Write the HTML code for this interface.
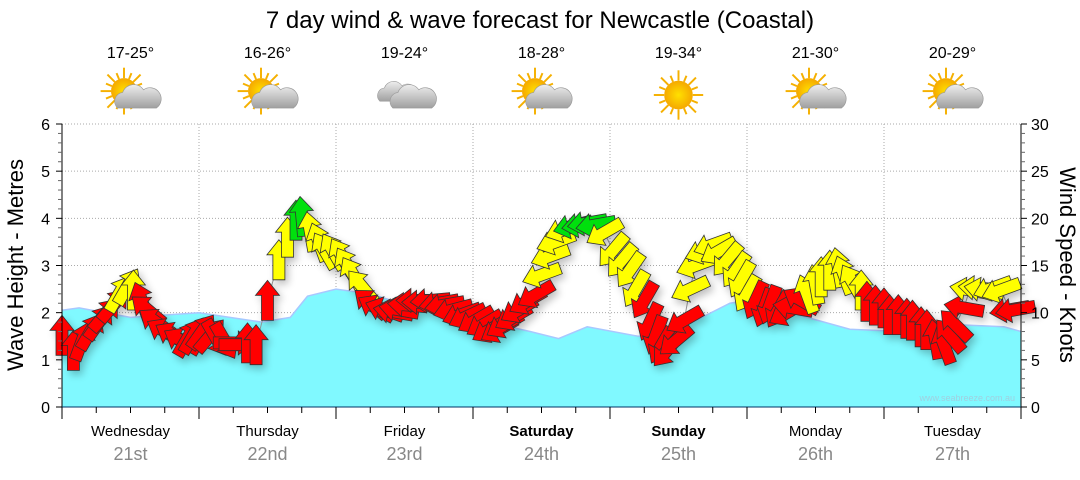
<!DOCTYPE html>
<html><head><meta charset="utf-8"><style>
body{margin:0;background:#fff;width:1080px;height:475px;overflow:hidden;font-family:"Liberation Sans",sans-serif}
</style></head><body>
<svg id="chart" width="1080" height="475" xmlns="http://www.w3.org/2000/svg" font-family="Liberation Sans, sans-serif">
<defs>
<radialGradient id="sun" cx="50%" cy="50%" r="50%"><stop offset="0" stop-color="#ffe000"/><stop offset="1" stop-color="#f5a800"/></radialGradient>
<linearGradient id="cloud" x1="0" y1="0" x2="0" y2="1"><stop offset="0" stop-color="#eeeeee"/><stop offset="1" stop-color="#a0a0a0"/></linearGradient>
<filter id="sh" x="-50%" y="-50%" width="200%" height="200%"><feGaussianBlur in="SourceAlpha" stdDeviation="4"/><feOffset dx="3" dy="4"/><feComponentTransfer><feFuncA type="linear" slope="0.25"/></feComponentTransfer><feMerge><feMergeNode/><feMergeNode in="SourceGraphic"/></feMerge></filter>
</defs>
<text x="540" y="28" font-size="24" text-anchor="middle" fill="#000">7 day wind &amp; wave forecast for Newcastle (Coastal)</text>
<g id="grid"></g>
<g id="wave"></g>
<g id="windline"></g>
<g id="arrows" filter="url(#sh)"></g>
<g id="axes"></g>
<g id="days"></g>
<g id="weather"></g>
<text transform="translate(23,265) rotate(-90)" font-size="22" text-anchor="middle">Wave Height - Metres</text>
<text transform="translate(1060,265) rotate(90)" font-size="22" text-anchor="middle">Wind Speed - Knots</text>
<text x="1015" y="401" font-size="9" text-anchor="end" fill="#9fd0e0">www.seabreeze.com.au</text>
</svg>
<script>
const dayNames=["Wednesday","Thursday","Friday","Saturday","Sunday","Monday","Tuesday"];
const dayDates=["21st","22nd","23rd","24th","25th","26th","27th"];
const dayBold=[false,false,false,true,true,false,false];
const temps=["17-25°","16-26°","19-24°","18-28°","19-34°","21-30°","20-29°"];
const icons=["partly","partly","cloudy","partly","sunny","partly","partly"];
const waveHours=[0,3,12,24,35,40,43,48,54,62,71,82,87,92,101,108,117,122,129,138,147,156,165,168];
const waveHeights=[2.05,2.1,1.9,2.0,1.8,1.9,2.35,2.5,2.4,2.1,1.9,1.6,1.45,1.7,1.5,1.65,2.2,2.3,1.95,1.65,1.6,1.75,1.7,1.6];
const windHours=[0,2,3.5,5,6.5,7.5,9,10,11.5,12.5,14,15,16.5,18,19.5,21,22,23,24.5,26,27,28.5,30,31,32.5,34,36,38,39.5,41,42,43.5,45,46,47.5,49,50,51,52.5,54,55,56.5,58,59,60.5,62,63,64.5,66,67,68.5,70,71,72.5,74,75,76.5,77.5,79,80,81.5,83,84,85.5,86.5,88,89.5,91,92,93.5,95,96.5,98,99.5,100.5,102,103,104,105,106,107.5,109,110,111,112.5,114,115,116.5,118,119,120,121.5,123,124,125.5,127,128,129.5,130.5,132,133,134.5,136,137,138.5,140,141,142.5,144,145,146.5,148,149,150.5,151.5,153,154.5,155.5,156.5,158,159,160.5,161.5,163,164.5,166,167];
const windSpeeds=[7.6,6,7,8,9,9.8,10.8,12,12.8,12.4,11.2,10.3,9,8,7.6,7,7.3,7.6,8,7.6,7.3,7,6.8,6.6,6.8,6.6,11.3,15.6,18,19.8,20.2,18.6,17.5,16.6,16.5,16,15,14,12.8,11,10.5,10.3,10.1,10.3,10.8,11.3,11.1,11.3,11,10.8,10.3,9.8,9.6,9.2,8.8,8.2,8.2,8.7,9.5,10.3,11.2,11.9,14,16,17.5,18.8,19.2,19.3,19.5,19.3,18.5,16.6,15.5,14.5,12.5,11.3,9,7.6,6.5,6,7,9.2,12.5,15,16.5,17.2,16.5,15.6,14.5,13.5,12,11.3,10.5,10.8,10.3,10,10.5,11.3,12,13,13.8,14.5,14.8,14,13.2,12.4,11.2,10.8,10.5,9.8,9.8,9.4,9.2,8.5,8.2,7.2,6.6,7.6,8.7,10.5,12.4,12.6,12.4,12.6,12.4,10.3,10.3];
const windDirs=[0,0,20,30,35,40,40,30,30,0,-20,-50,-55,-60,-60,-60,30,30,35,40,150,150,90,90,0,0,0,0,0,0,-5,-10,-20,-30,-30,-30,-30,-30,-40,-50,-60,-70,-80,-80,-85,-90,-90,-95,-100,-100,-105,-110,-115,-120,-120,-120,-120,-120,-120,-120,-120,-120,-110,-110,-110,-110,-105,-100,-100,-100,-120,-140,-140,-145,-150,-150,-155,-160,-150,-140,-130,-120,-115,-110,-110,-110,-120,-140,-145,-150,-150,-155,-160,-160,-150,-120,-80,-60,-20,-10,0,0,-10,-20,-30,0,0,0,0,0,0,0,0,0,0,-10,-20,-40,-45,-80,-80,-85,-80,-110,-110,-100,-100];
const waveTicks=[0,1,2,3,4,5,6];
const windTicks=[0,5,10,15,20,25,30];

const NS="http://www.w3.org/2000/svg";
const X0=62,X1=1021,Y0=407,Y1=124,HOURS=168;
const xs=h=>X0+h*(X1-X0)/HOURS;
const yWave=v=>Y0-v*(Y0-Y1)/6;
const yWind=v=>Y0-v*(Y0-Y1)/30;
function mk(tag,attrs,parent){const e=document.createElementNS(NS,tag);for(const k in attrs)e.setAttribute(k,attrs[k]);parent.appendChild(e);return e;}
const G=id=>document.getElementById(id);

for(const t of waveTicks){ if(t>0){const l=mk('line',{x1:X0,x2:X1,y1:yWave(t),y2:yWave(t),stroke:'#aaa','stroke-dasharray':'1,2'},G('grid'));

}}
for(let d=1;d<7;d++){const l=mk('line',{x1:xs(d*24),x2:xs(d*24),y1:Y1,y2:Y0,stroke:'#aaa','stroke-dasharray':'1,2'},G('grid'));

}

let d='M'+X0+','+Y0;
waveHours.forEach((h,i)=>{d+=' L'+xs(h).toFixed(1)+','+yWave(waveHeights[i]).toFixed(1);});
d+=' L'+X1+','+Y0+' Z';
const wa=mk('path',{d:d,fill:'#80f9ff'},G('wave'));


let dl='';waveHours.forEach((h,i)=>{dl+=(i?' L':'M')+xs(h).toFixed(1)+','+yWave(waveHeights[i]).toFixed(1);});
const wl=mk('path',{d:dl,fill:'none',stroke:'#a8c8ff','stroke-width':1.5},G('wave'));



let wd='';windHours.forEach((h,i)=>{wd+=(i?' L':'M')+xs(h).toFixed(1)+','+yWind(windSpeeds[i]).toFixed(1);});
const wdl=mk('path',{d:wd,fill:'none',stroke:'#999','stroke-width':1},G('windline'));



const arrowPts="0,-20 12,-5 6,-5 6,20 -6,20 -6,-5 -12,-5";
windHours.forEach((h,i)=>{
 const s=windSpeeds[i];const c=s<12?'#ff0000':(s<19?'#ffff00':'#00e010');
 const dir=windDirs[i]||0;
 const a=mk('polygon',{points:arrowPts,fill:c,stroke:'#333','stroke-width':0.8,transform:`translate(${xs(h).toFixed(1)},${yWind(s).toFixed(1)}) rotate(${dir})`},G('arrows'));
 
 
});

const ax=G('axes');
mk('line',{x1:X0,x2:X0,y1:Y1,y2:Y0,stroke:'#000'},ax);
mk('line',{x1:X1,x2:X1,y1:Y1,y2:Y0,stroke:'#000'},ax);
mk('line',{x1:X0,x2:X1,y1:Y0,y2:Y0,stroke:'#036'},ax);
for(let m=0;m<=30;m++){const y=Y0-m*(Y0-Y1)/30;const big=m%5==0;
 mk('line',{x1:X0-(big?6:4),x2:X0,y1:y,y2:y,stroke:big?'#000':'#666'},ax);
 mk('line',{x1:X1,x2:X1+(big?6:4),y1:y,y2:y,stroke:big?'#000':'#666'},ax);}
waveTicks.forEach(t=>{const e=mk('text',{x:X0-12,y:yWave(t)+6,'font-size':16,'text-anchor':'end'},ax);e.textContent=t;

});
windTicks.forEach(t=>{const e=mk('text',{x:X1+10,y:yWind(t)+6,'font-size':16},ax);e.textContent=t;

});
for(let h=0;h<=HOURS;h+=6){mk('line',{x1:xs(h),x2:xs(h),y1:Y0,y2:Y0+(h%24==0?12:6),stroke:'#000'},ax);}

dayNames.forEach((n,i)=>{const cx=xs(i*24+12);
 const t=mk('text',{x:cx,y:436,'font-size':15,'text-anchor':'middle','font-weight':dayBold[i]?'bold':'normal'},G('days'));t.textContent=n;
 
 
 const t2=mk('text',{x:cx,y:460,'font-size':18,'text-anchor':'middle',fill:'#888'},G('days'));t2.textContent=dayDates[i];
 
 
 const t3=mk('text',{x:cx,y:58,'font-size':16,'text-anchor':'middle'},G('weather'));t3.textContent=temps[i];
 
 
 const g=mk('g',{transform:`translate(${cx},95) scale(1.3)`},G('weather'));
 
 
 const sun=(sx,sy,r)=>{for(let k=0;k<16;k++){const an=k*Math.PI/8;mk('line',{x1:sx+Math.cos(an)*r,y1:sy+Math.sin(an)*r,x2:sx+Math.cos(an)*(r+(k%2?5:8)),y2:sy+Math.sin(an)*(r+(k%2?5:8)),stroke:'#f5b000','stroke-width':1.5},g);}mk('circle',{cx:sx,cy:sy,r:r,fill:'url(#sun)'},g);};
 const cloud=(cx2,cy2,s)=>{const cg=mk('g',{transform:`translate(${cx2},${cy2}) scale(${s})`,fill:'url(#cloud)',stroke:'#999','stroke-width':0.5},g);
  mk('path',{d:'M-14,8 A7,7 0 0 1 -10,-4 A9,9 0 0 1 6,-6 A8,8 0 0 1 16,8 Z'},cg);};
 if(icons[i]==='sunny'){sun(0,0,11);}
 else if(icons[i]==='partly'){sun(-5,-3,10);cloud(4,2,1);}
 else {cloud(-7,-2,0.85);cloud(5,2,1);}
});
</script>
</body></html>
